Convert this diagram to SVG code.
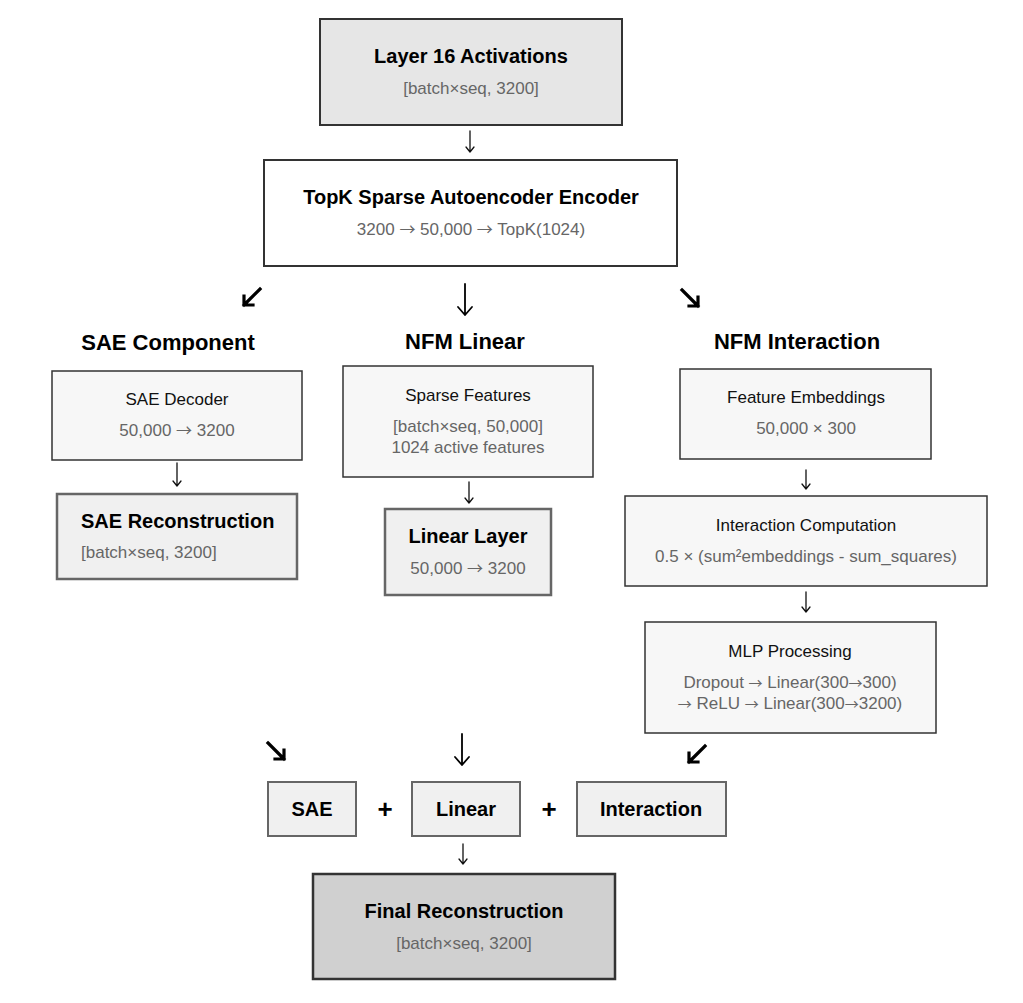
<svg xmlns="http://www.w3.org/2000/svg" width="1023" height="1003" viewBox="0 0 1023 1003">
<style>
text{font-family:"Liberation Sans",Arial,sans-serif;text-anchor:middle}
.t{font-size:20px;font-weight:bold;fill:#000}
.h{font-size:22px;font-weight:bold;fill:#000}
.r{font-size:17px;fill:#111}
.s{font-size:17px;fill:#666}
.ar{font-family:"Noto Sans CJK SC","DejaVu Sans",sans-serif;font-size:16px}
.ars{font-family:"Noto Sans CJK SC","DejaVu Sans",sans-serif;font-size:14px}
.big{stroke:#333;stroke-width:2}
.light{fill:#f7f7f7;stroke:#333;stroke-width:1.5}
.res{fill:#f0f0f0;stroke:#666;stroke-width:2.5}
.sum{fill:#f0f0f0;stroke:#666;stroke-width:2}
.c{fill:none;stroke:#111;stroke-width:1.3;stroke-linecap:round;stroke-linejoin:round}
.cb{fill:none;stroke:#000;stroke-width:1.8;stroke-linecap:round;stroke-linejoin:round}
.cd{fill:none;stroke:#000;stroke-width:3.2;stroke-linecap:square;stroke-linejoin:miter}
</style>
<rect width="1023" height="1003" fill="#fff"/>
<g id="connectors">
<path class="c" d="M470 131V152M466 147L470 152L474 147"/>
<path class="cd" d="M260 289L244 305M244 296V305H253"/>
<path class="cb" d="M465 284V315M458 307L465 315L472 307"/>
<path class="cd" d="M682 290L698 306M698 297V306H689"/>
<path class="c" d="M177 463V486M173 481L177 486L181 481"/>
<path class="c" d="M469 482V503M465 498L469 503L473 498"/>
<path class="c" d="M806 470V489M802 484L806 489L810 484"/>
<path class="c" d="M806 592V612M802 607L806 612L810 607"/>
<path class="cd" d="M268 743L284 759M284 750V759H275"/>
<path class="cb" d="M462 734V765M455 757L462 765L469 757"/>
<path class="cd" d="M705 746L689 762M689 753V762H698"/>
<path class="c" d="M463 844V864M459 859L463 864L467 859"/>
</g>
<g id="layer16">
<rect x="320" y="19" width="302" height="106" fill="#e6e6e6" class="big"/>
<text class="t" x="471" y="63">Layer 16 Activations</text>
<text class="s" x="471" y="94">[batch×seq, 3200]</text>
</g>
<g id="encoder">
<rect x="264" y="160" width="413" height="106" fill="#fff" class="big"/>
<text class="t" x="471" y="204">TopK Sparse Autoencoder Encoder</text>
<text class="s" x="471" y="235" fill="#555">3200 <tspan class="ar">→</tspan> 50,000 <tspan class="ar">→</tspan> TopK(1024)</text>
</g>
<g id="headings">
<text class="h" x="168" y="350">SAE Component</text>
<text class="h" x="465" y="349">NFM Linear</text>
<text class="h" x="797" y="349">NFM Interaction</text>
</g>
<g id="sae-decoder">
<rect x="52" y="371" width="250" height="89" class="light"/>
<text class="r" x="177" y="405">SAE Decoder</text>
<text class="s" x="177" y="436">50,000 <tspan class="ar">→</tspan> 3200</text>
</g>
<g id="sae-recon">
<rect x="57" y="494" width="240" height="85" class="res"/>
<text class="t" x="81" y="528" style="text-anchor:start">SAE Reconstruction</text>
<text class="s" x="81" y="558" style="text-anchor:start">[batch×seq, 3200]</text>
</g>
<g id="sparse-features">
<rect x="343" y="366" width="250" height="111" class="light"/>
<text class="r" x="468" y="401">Sparse Features</text>
<text class="s" x="468" y="432">[batch×seq, 50,000]</text>
<text class="s" x="468" y="453">1024 active features</text>
</g>
<g id="linear-layer">
<rect x="385" y="509" width="166" height="86" class="res"/>
<text class="t" x="468" y="543">Linear Layer</text>
<text class="s" x="468" y="574">50,000 <tspan class="ar">→</tspan> 3200</text>
</g>
<g id="feature-embeddings">
<rect x="680" y="369" width="251" height="90" class="light"/>
<text class="r" x="806" y="403">Feature Embeddings</text>
<text class="s" x="806" y="434">50,000 × 300</text>
</g>
<g id="interaction-computation">
<rect x="625" y="496" width="362" height="90" class="light"/>
<text class="r" x="806" y="531">Interaction Computation</text>
<text class="s" x="806" y="562">0.5 × (sum²embeddings - sum_squares)</text>
</g>
<g id="mlp">
<rect x="645" y="622" width="291" height="111" class="light"/>
<text class="r" x="790" y="657">MLP Processing</text>
<text class="s" x="790" y="688">Dropout <tspan class="ars">→</tspan> Linear(300<tspan class="ars">→</tspan>300)</text>
<text class="s" x="790" y="709"><tspan class="ars">→</tspan> ReLU <tspan class="ars">→</tspan> Linear(300<tspan class="ars">→</tspan>3200)</text>
</g>
<g id="sum-sae">
<rect x="268" y="782" width="88" height="54" class="sum"/>
<text class="t" x="312" y="816">SAE</text>
</g>
<text class="t" x="385" y="818" style="font-size:26px">+</text>
<g id="sum-linear">
<rect x="412" y="782" width="108" height="54" class="sum"/>
<text class="t" x="466" y="816">Linear</text>
</g>
<text class="t" x="549" y="818" style="font-size:26px">+</text>
<g id="sum-interaction">
<rect x="577" y="782" width="149" height="54" class="sum"/>
<text class="t" x="651" y="816">Interaction</text>
</g>
<g id="final">
<rect x="313" y="874" width="302" height="105" fill="#d0d0d0" stroke="#333" stroke-width="2.5"/>
<text class="t" x="464" y="918">Final Reconstruction</text>
<text class="s" x="464" y="949">[batch×seq, 3200]</text>
</g>
</svg>
